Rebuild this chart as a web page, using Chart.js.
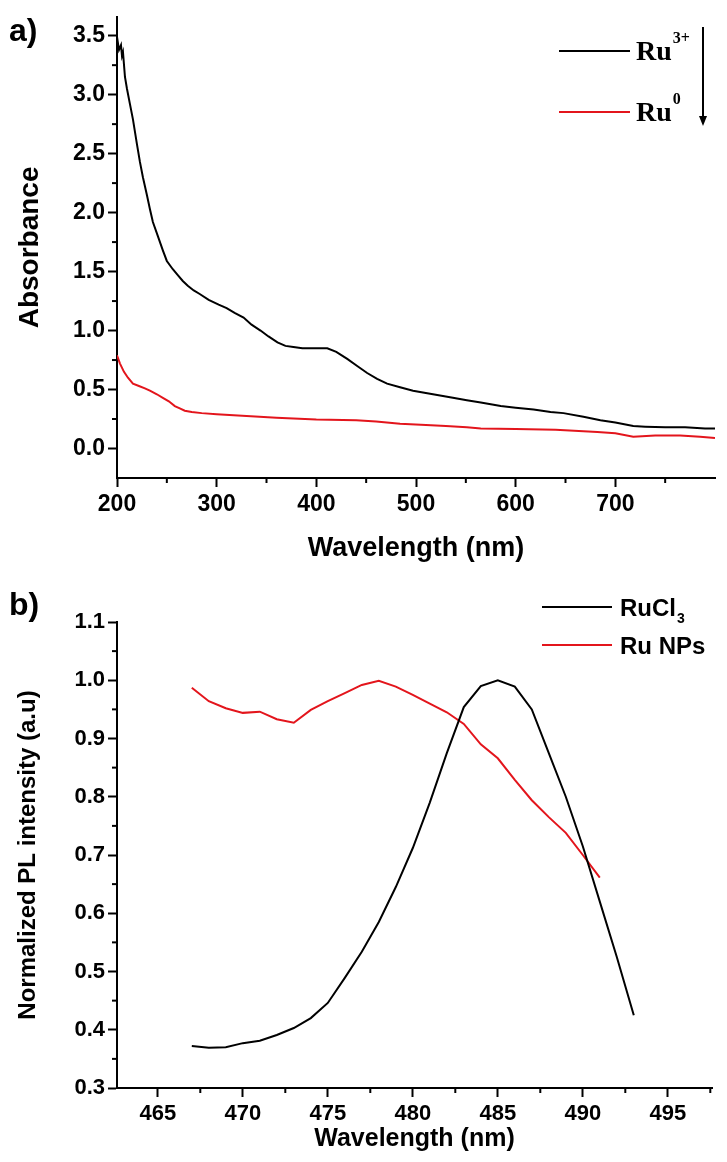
<!DOCTYPE html>
<html>
<head>
<meta charset="utf-8">
<script src="https://cdn.jsdelivr.net/npm/chart.js@4.4.0/dist/chart.umd.min.js"></script>
<style>
  html, body { margin: 0; padding: 0; background: #fff; }
  #wrap { position: relative; width: 727px; height: 1162px; }
  canvas { position: absolute; left: 0; }
</style>
</head>
<body>
<div id="wrap">
  <canvas id="absChart" width="727" height="581" style="top:0"></canvas>
  <canvas id="plChart" width="727" height="581" style="top:581px"></canvas>
</div>
<script>
// ---- (a) UV-vis absorbance ----
const ru3Wl  = [200,202,204,205,206,208,210,213,216,220,223,226,230,233,236,241,246,250,256,261,266,271,277,283,292,302,310,318,327,335,344,352,361,369,377,386,394,402,411,420,431,441,451,461,471,484,497,517,537,551,565,585,600,618,635,648,668,685,700,718,730,750,770,790,800];
const ru3Abs = [3.49,3.38,3.42,3.33,3.36,3.15,3.05,2.92,2.79,2.58,2.43,2.30,2.15,2.03,1.92,1.80,1.68,1.59,1.52,1.47,1.42,1.38,1.34,1.31,1.26,1.22,1.19,1.15,1.11,1.05,1.00,0.95,0.90,0.87,0.86,0.85,0.85,0.85,0.85,0.82,0.76,0.70,0.64,0.59,0.55,0.52,0.49,0.46,0.43,0.41,0.39,0.36,0.345,0.33,0.31,0.30,0.27,0.24,0.22,0.19,0.185,0.18,0.18,0.17,0.17];
const ru0Wl  = [200,203,207,211,216,222,228,233,240,246,252,258,263,268,275,285,300,330,360,400,440,460,484,510,530,551,565,600,640,682,700,718,740,765,785,800];
const ru0Abs = [0.79,0.72,0.65,0.60,0.55,0.53,0.51,0.49,0.46,0.43,0.40,0.36,0.34,0.32,0.31,0.30,0.29,0.275,0.26,0.245,0.24,0.23,0.21,0.20,0.19,0.18,0.17,0.165,0.16,0.14,0.13,0.10,0.11,0.11,0.10,0.09];
const absTicksX = [200,300,400,500,600,700];
const absTicksY = [0,0.5,1,1.5,2,2.5,3,3.5];
const absMinorX = [250,350,450,550,650,750];
const absMinorY = [0.25,0.75,1.25,1.75,2.25,2.75,3.25];

// ---- (b) normalized PL ----
const plWl     = [467,468,469,470,471,472,473,474,475,476,477,478,479,480,481,482,483,484,485,486,487,488,489,490,491,492,493];
const rucl3PL  = [0.372,0.369,0.370,0.377,0.381,0.391,0.403,0.420,0.446,0.489,0.534,0.585,0.645,0.712,0.790,0.875,0.954,0.990,1.000,0.989,0.950,0.875,0.800,0.715,0.620,0.525,0.425];
const runpPL   = [0.987,0.964,0.952,0.944,0.946,0.933,0.927,0.949,0.964,0.978,0.992,0.999,0.989,0.975,0.960,0.945,0.925,0.890,0.866,0.829,0.794,0.765,0.738,0.700,0.661];
const plTicksX = [465,470,475,480,485,490,495];
const plTicksY = [0.3,0.4,0.5,0.6,0.7,0.8,0.9,1.0,1.1];
const plMinorX = [467.5,472.5,477.5,482.5,487.5,492.5,497.5];
const plMinorY = [0.35,0.45,0.55,0.65,0.75,0.85,0.95,1.05];

const RED = '#e3151c';
const SANS = '"Liberation Sans", Arial, sans-serif';
const SERIF = '"Liberation Serif", "Times New Roman", serif';

function pts(xs, ys) {
  return ys.map((y, i) => ({ x: xs[i], y: y }));
}

// minor ticks drawn through the scales
const minorTicks = {
  id: 'minorTicks',
  afterDraw(chart, args, opts) {
    const ctx = chart.ctx;
    const xs = chart.scales.x, ys = chart.scales.y;
    ctx.save();
    ctx.strokeStyle = '#000';
    ctx.lineWidth = 2;
    opts.x.forEach(v => {
      const p = xs.getPixelForValue(v);
      ctx.beginPath(); ctx.moveTo(p, xs.top); ctx.lineTo(p, xs.top + 5); ctx.stroke();
    });
    opts.y.forEach(v => {
      const p = ys.getPixelForValue(v);
      ctx.beginPath(); ctx.moveTo(ys.right, p); ctx.lineTo(ys.right - 5, p); ctx.stroke();
    });
    ctx.restore();
  }
};

// panel letter + hand-made legend
const decor = {
  id: 'decor',
  afterDraw(chart, args, opts) {
    const ctx = chart.ctx;
    ctx.save();
    ctx.fillStyle = '#000';
    ctx.textBaseline = 'middle';
    ctx.font = 'bold 32px ' + SANS;
    ctx.fillText(opts.panel, 9, opts.panelY);

    opts.items.forEach(it => {
      ctx.strokeStyle = it.color;
      ctx.lineWidth = 2;
      ctx.beginPath(); ctx.moveTo(opts.x0, it.y); ctx.lineTo(opts.x1, it.y); ctx.stroke();
      ctx.fillStyle = '#000';
      ctx.textBaseline = 'middle';
      ctx.font = 'bold ' + opts.size + 'px ' + opts.font;
      ctx.fillText(it.text, opts.tx, it.y + 2);
      const w = ctx.measureText(it.text).width;
      if (it.sup) {
        ctx.font = 'bold 16px ' + opts.font;
        ctx.fillText(it.sup, opts.tx + w + 1, it.y - 12);
      }
      if (it.sub) {
        ctx.font = 'bold 14px ' + opts.font;
        ctx.fillText(it.sub, opts.tx + w + 1, it.y + 12);
      }
    });

    if (opts.arrow) {
      const a = opts.arrow;
      ctx.strokeStyle = '#000';
      ctx.lineWidth = 2;
      ctx.beginPath(); ctx.moveTo(a.x, a.y0); ctx.lineTo(a.x, a.y1 - 8); ctx.stroke();
      ctx.beginPath();
      ctx.moveTo(a.x - 4, a.y1 - 10); ctx.lineTo(a.x + 4, a.y1 - 10); ctx.lineTo(a.x, a.y1);
      ctx.closePath(); ctx.fill();
    }
    ctx.restore();
  }
};

function axis(opts, tickValues) {
  return Object.assign({
    type: 'linear',
    border: { color: '#000', width: 2 },
    grid: { drawOnChartArea: false, drawTicks: true, tickLength: 9, tickWidth: 2, tickColor: '#000' },
    afterBuildTicks: s => { s.ticks = tickValues.map(v => ({ value: v })); }
  }, opts);
}

new Chart(document.getElementById('absChart'), {
  type: 'line',
  data: {
    datasets: [
      { label: 'Ru3+', data: pts(ru3Wl, ru3Abs), borderColor: '#000', borderWidth: 2, pointRadius: 0, tension: 0 },
      { label: 'Ru0', data: pts(ru0Wl, ru0Abs), borderColor: RED, borderWidth: 2, pointRadius: 0, tension: 0 }
    ]
  },
  options: {
    responsive: false,
    animation: false,
    layout: { padding: { top: 13, right: 12, left: 0, bottom: 0 } },
    plugins: {
      legend: { display: false },
      tooltip: { enabled: false },
      minorTicks: { x: absMinorX, y: absMinorY },
      decor: {
        panel: 'a)', panelY: 32,
        x0: 559, x1: 630, tx: 636, size: 28, font: SERIF,
        items: [
          { text: 'Ru', sup: '3+', color: '#000', y: 51 },
          { text: 'Ru', sup: '0', color: RED, y: 112 }
        ],
        arrow: { x: 703, y0: 27, y1: 126 }
      }
    },
    scales: {
      x: axis({
        min: 200, max: 800,
        ticks: { maxRotation: 0, color: '#000', padding: 4,
                 font: { family: SANS, size: 23, weight: 'bold' } },
        title: { display: true, text: 'Wavelength (nm)', color: '#000',
                 font: { family: SANS, size: 27, weight: 'bold' }, padding: { top: 0, bottom: 16 } },
        afterFit: s => { s.height = 103; }
      }, absTicksX),
      y: axis({
        min: -0.25, max: 3.66,
        ticks: { color: '#000', padding: 3,
                 font: { family: SANS, size: 23, weight: 'bold' },
                 callback: v => v.toFixed(1) },
        title: { display: true, text: 'Absorbance', color: '#000',
                 font: { family: SANS, size: 28, weight: 'bold' }, padding: { top: 13, bottom: 0 } },
        afterFit: s => { s.width = 117; }
      }, absTicksY)
    }
  },
  plugins: [minorTicks, decor]
});

new Chart(document.getElementById('plChart'), {
  type: 'line',
  data: {
    datasets: [
      { label: 'RuCl3', data: pts(plWl, rucl3PL), borderColor: '#000', borderWidth: 2, pointRadius: 0, tension: 0 },
      { label: 'Ru NPs', data: pts(plWl, runpPL), borderColor: RED, borderWidth: 2, pointRadius: 0, tension: 0 }
    ]
  },
  options: {
    responsive: false,
    animation: false,
    layout: { padding: { top: 41, right: 15, left: 0, bottom: 0 } },
    plugins: {
      legend: { display: false },
      tooltip: { enabled: false },
      minorTicks: { x: plMinorX, y: plMinorY },
      decor: {
        panel: 'b)', panelY: 25,
        x0: 542, x1: 612, tx: 620, size: 24, font: SANS,
        items: [
          { text: 'RuCl', sub: '3', color: '#000', y: 26 },
          { text: 'Ru NPs', color: RED, y: 64 }
        ]
      }
    },
    scales: {
      x: axis({
        min: 462.6, max: 497.6,
        ticks: { maxRotation: 0, color: '#000', padding: 4,
                 font: { family: SANS, size: 22, weight: 'bold' } },
        title: { display: true, text: 'Wavelength (nm)', color: '#000',
                 font: { family: SANS, size: 25, weight: 'bold' }, padding: { top: 0, bottom: 8 } },
        afterFit: s => { s.height = 74; }
      }, plTicksX),
      y: axis({
        min: 0.3, max: 1.1,
        ticks: { color: '#000', padding: 3,
                 font: { family: SANS, size: 22, weight: 'bold' },
                 callback: v => v.toFixed(1) },
        title: { display: true, text: 'Normalized PL intensity (a.u)', color: '#000',
                 font: { family: SANS, size: 24, weight: 'bold' }, padding: { top: 14, bottom: 0 } },
        afterFit: s => { s.width = 117; }
      }, plTicksY)
    }
  },
  plugins: [minorTicks, decor]
});
</script>
</body>
</html>
